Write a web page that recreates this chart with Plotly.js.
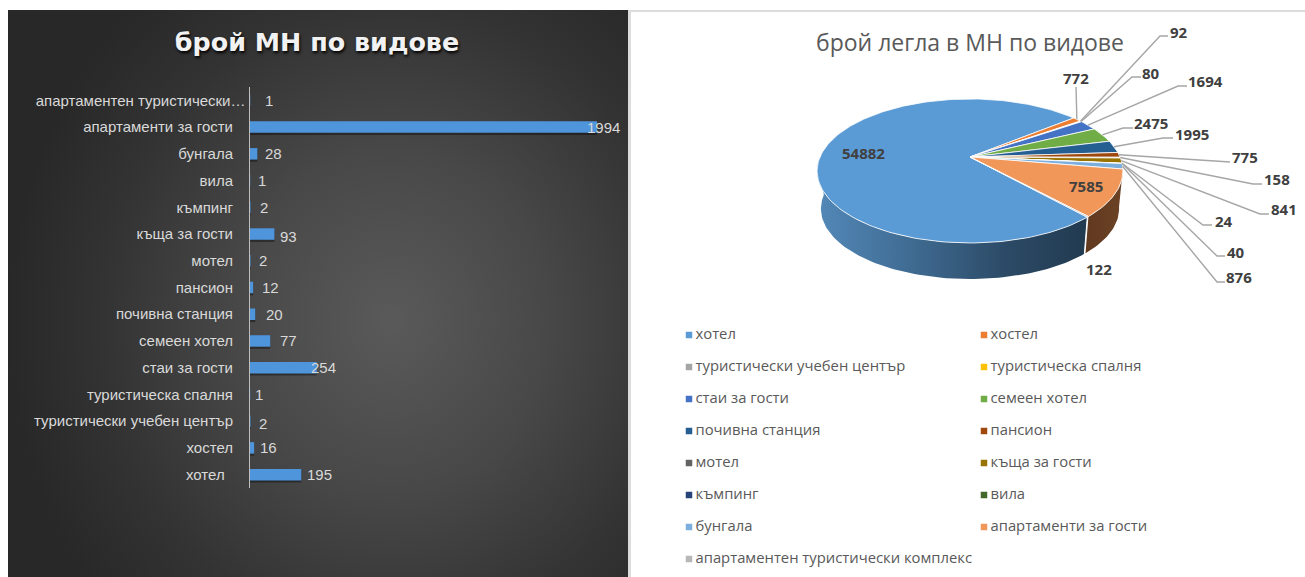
<!DOCTYPE html>
<html>
<head>
<meta charset="utf-8">
<script src="https://cdn.plot.ly/plotly-3.0.1.min.js"></script>
<style>
html,body{margin:0;padding:0;background:#fff;}
#panel{position:absolute;left:8px;top:10px;width:620px;height:567px;
background:radial-gradient(ellipse 62% 75% at 62% 55%,#5a5a5a 0%,#484848 40%,#333333 75%,#282828 100%);}
#chart{position:absolute;left:0;top:0;width:1305px;height:577px;}
</style>
</head>
<body>
<div id="panel"></div>
<div id="chart"></div>
<script>
// ---------- data ----------
const categories = ['хотел','хостел','туристически учебен център','туристическа спалня','стаи за гости','семеен хотел','почивна станция','пансион','мотел','къща за гости','къмпинг','вила','бунгала','апартаменти за гости','апартаментен туристически комплекс'];
const barTickText = ['хотел  ','хостел','туристически учебен център','туристическа спалня','стаи за гости','семеен хотел','почивна станция','пансион','мотел','къща за гости','къмпинг','вила','бунгала','апартаменти за гости','апартаментен туристически…'];
const sitesLabel = [195,16,2,1,254,77,20,12,2,93,2,1,28,1994,1];
// the bars as drawn: in the picture the "1994" bar is only as long as about 1320 on the scale of the others
const sitesBar = [195,16,2,1,254,77,20,12,2,93,2,1,28,1320,1];
const beds = [54882,772,92,80,1694,2475,1995,775,158,841,24,40,876,7585,122];
const sliceColors = ['#5b9bd5','#ed7d31','#a5a5a5','#ffc000','#4472c4','#70ad47','#255e91','#9e480e','#636363','#997300','#264478','#43682b','#7cafdd','#f1975a','#b7b7b7'];

// ---------- layout constants (pixels) ----------
const barLabelNudge = [[4,0],[3.5,0],[6,-2],[3,0],[-8,0],[8,0],[9,0],[7,0],[6,0],[4,-2],[7,0],[6,0],[5.5,0],[-12,0],[13,0]];
// label centre, then leader elbows running from the rim outwards
const pieLabelPos = [
 {c:[863,153]},
 {c:[1076,78], p:[[1076,87]]},
 {c:[1179,32], p:[[1160,36],[1168,36]]},
 {c:[1151,73], p:[[1132,77],[1141,77]]},
 {c:[1205,81], p:[[1178,86],[1187,86]]},
 {c:[1151,123],p:[[1123,128],[1133,128]]},
 {c:[1192,134],p:[[1163,138],[1173,138]]},
 {c:[1245,157],p:[[1222,162],[1230,162]]},
 {c:[1277,179],p:[[1253,184],[1262,184]]},
 {c:[1284,209],p:[[1260,214],[1269,214]]},
 {c:[1224,221],p:[[1203,225],[1212,225]]},
 {c:[1236,252],p:[[1217,256],[1225,256]]},
 {c:[1239,277],p:[[1217,282],[1225,282]]},
 {c:[1086,186]},
 {c:[1099,269]}
];

// ---------- pie geometry: perspective projection of a disc ----------
const CX=970, AY=157, RX=150, A=69.3, B=-0.194, FIRST=138;
function rim(deg){const r=deg*Math.PI/180,c=Math.sin(r),s=-Math.cos(r),w=1+B*s;return [CX+RX*c/w,AY+A*s/w];}
function low(p){return [CX+0.975*(p[0]-CX),AY+38.2+0.975*(p[1]-AY)];}
function arc(a0,a1,f){const n=Math.max(2,Math.ceil(Math.abs(a1-a0)/1.5)),o=[];for(let i=0;i<=n;i++){const p=rim(a0+(a1-a0)*i/n);o.push(f?f(p):p);}return o;}
const total=beds.reduce((a,b)=>a+b,0);
let acc=FIRST; const spans=beds.map(v=>{const a0=acc;acc+=v/total*360;return [a0,acc];});

const PX={xaxis:'x2',yaxis:'y2',hoverinfo:'skip',showlegend:false};
const traces=[];
// bars
traces.push({type:'bar',orientation:'h',y:categories,x:sitesBar,width:0.49,offset:-0.295,marker:{color:'rgba(0,0,0,0.38)'},hoverinfo:'skip',showlegend:false});
traces.push({type:'bar',orientation:'h',y:categories,x:sitesBar,width:0.43,offset:-0.215,marker:{color:'#4f95dc'},hoverinfo:'skip',showlegend:false});

// pie walls
function wall(a0,a1,stops){
  const up=arc(a0,a1), lo=arc(a1,a0,low), pts=up.concat(lo); pts.push(up[0]);
  traces.push(Object.assign({type:'scatter',mode:'lines',x:pts.map(p=>p[0]),y:pts.map(p=>p[1]),fill:'toself',
    line:{color:'rgba(0,0,0,0)',width:0},
    fillgradient:{type:'horizontal',colorscale:stops}},PX));
}
wall(270,spans[0][0],[[0,'#5388b8'],[0.35,'#3f6b92'],[0.7,'#2c4a66'],[1,'#213a50']]);
wall(spans[13][0],spans[13][1],[[0,'#61391f'],[1,'#6b4224']]);
// boundary line of the wall
{const p=rim(spans[0][0]),q=low(p);traces.push(Object.assign({type:'scatter',mode:'lines',x:[p[0],q[0]],y:[p[1],q[1]],line:{color:'#ffffff',width:1}},PX));}
// slices
beds.forEach((v,i)=>{
  const pts=[[CX,AY]].concat(arc(spans[i][0],spans[i][1]));pts.push([CX,AY]);
  traces.push(Object.assign({type:'scatter',mode:'lines',x:pts.map(p=>p[0]),y:pts.map(p=>p[1]),fill:'toself',
    fillcolor:sliceColors[i],line:{color:'#ffffff',width:0.8}},PX));
});
// leaders
pieLabelPos.forEach((l,i)=>{
  if(!l.p) return;
  const m=rim((spans[i][0]+spans[i][1])/2);
  const pts=[m].concat(l.p);
  traces.push(Object.assign({type:'scatter',mode:'lines',x:pts.map(p=>p[0]),y:pts.map(p=>p[1]),line:{color:'#a6a6a6',width:1.4}},PX));
});
// legend
const legX=categories.map((c,i)=>689+295*(i%2));
const legY=categories.map((c,i)=>335+32*Math.floor(i/2));
traces.push(Object.assign({type:'scatter',mode:'markers',x:legX,y:legY,
  marker:{symbol:'square',size:6.5,color:sliceColors,line:{width:0}},cliponaxis:false},PX));
traces.push(Object.assign({type:'scatter',mode:'text',x:legX.map(v=>v+6.5),y:legY,
  text:categories,textposition:'middle right',
  textfont:{family:'Open Sans',size:14.8,color:'#595959'},cliponaxis:false},PX));

const annotations=[];
categories.forEach((c,i)=>annotations.push({xref:'x',yref:'y',x:sitesBar[i],y:c,text:String(sitesLabel[i]),showarrow:false,
  xanchor:'left',yanchor:'middle',xshift:barLabelNudge[i][0],yshift:barLabelNudge[i][1],
  font:{family:'Liberation Sans',size:15,color:'#d9d9d9'}}));
beds.forEach((v,i)=>annotations.push({xref:'x2',yref:'y2',x:pieLabelPos[i].c[0],y:pieLabelPos[i].c[1],text:String(v),showarrow:false,
  xanchor:'center',yanchor:'middle',font:{family:'Open Sans',size:15,weight:700,color:'#404040'}}));
annotations.push({xref:'x2',yref:'y2',x:970,y:42,text:'брой легла в МН по видове',showarrow:false,xanchor:'center',yanchor:'middle',
  font:{family:'Open Sans',size:23,color:'#595959'}});

const W=1305,H=577;
const layout={
  width:W,height:H,margin:{l:0,r:0,t:0,b:0},paper_bgcolor:'rgba(0,0,0,0)',plot_bgcolor:'rgba(0,0,0,0)',
  showlegend:false,hovermode:false,barmode:'overlay',
  title:{text:'брой МН по видове',x:317/W,xref:'paper',xanchor:'center',y:1-42/H,yref:'paper',yanchor:'middle',
    font:{family:'DejaVu Sans',size:25.4,weight:700,color:'#f2f2f2',shadow:'1px 2px 3px #000000'}},
  xaxis:{domain:[250/W,597/W],range:[0,1320],visible:false,fixedrange:true},
  yaxis:{domain:[(H-488)/H,(H-87)/H],type:'category',categoryorder:'array',categoryarray:categories,range:[-0.5,14.5],
    tickmode:'array',tickvals:categories,ticktext:barTickText.map((t,i)=>i===14?t:t+'\u00a0\u00a0\u00a0'),ticks:'',ticklabelstandoff:0,
    showline:true,linecolor:'#bfbfbf',linewidth:1.5,showgrid:false,zeroline:false,fixedrange:true,
    tickfont:{family:'Liberation Sans',size:15,color:'#d9d9d9'}},
  xaxis2:{domain:[0,1],range:[0,W],visible:false,anchor:'y2',fixedrange:true},
  yaxis2:{domain:[0,1],range:[H,0],visible:false,anchor:'x2',fixedrange:true},
  shapes:[
    {type:'line',xref:'paper',yref:'paper',x0:629.5/W,x1:629.5/W,y0:0,y1:1-10/H,line:{color:'#dcdcdc',width:3}},
    {type:'line',xref:'paper',yref:'paper',x0:628/W,x1:1,y0:1-11/H,y1:1-11/H,line:{color:'#dcdcdc',width:2}}
  ],
  annotations:annotations
};
Plotly.newPlot('chart',traces,layout,{displayModeBar:false,staticPlot:true});
</script>
</body>
</html>
